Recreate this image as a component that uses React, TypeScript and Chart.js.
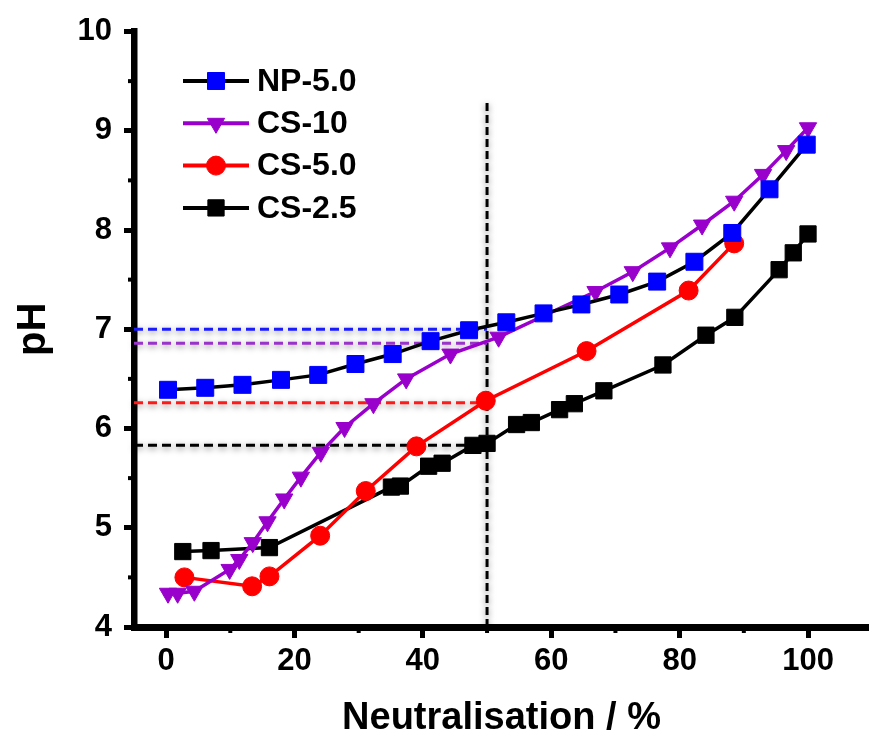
import React, { useEffect, useRef } from 'react';
import { Chart, registerables } from 'chart.js';
Chart.register(...registerables);

const FONT = "'Liberation Sans', Arial, Helvetica, sans-serif";

const seriesNames = ['NP-5.0', 'CS-10', 'CS-5.0', 'CS-2.5'];

const npX = [0.3, 6.1, 11.9, 17.9, 23.7, 29.5, 35.3, 41.2, 47.2, 53.0, 58.8, 64.7, 70.6, 76.5, 82.3, 88.2, 94.0, 99.8];
const npY = [6.39, 6.41, 6.44, 6.49, 6.54, 6.65, 6.75, 6.88, 6.99, 7.07, 7.16, 7.25, 7.35, 7.48, 7.68, 7.97, 8.41, 8.86];

const cs10X = [0.3, 1.8, 4.4, 9.9, 11.4, 13.5, 15.8, 18.4, 21.0, 24.1, 27.8, 32.3, 37.4, 44.3, 51.8, 66.9, 72.7, 78.5, 83.5, 88.5, 93.0, 96.6, 100.0];
const cs10Y = [4.34, 4.34, 4.36, 4.58, 4.68, 4.85, 5.06, 5.29, 5.51, 5.76, 6.01, 6.25, 6.50, 6.75, 6.92, 7.38, 7.58, 7.82, 8.05, 8.29, 8.56, 8.80, 9.03];

const cs5X = [2.85, 13.4, 16.1, 24.0, 31.1, 39.0, 49.8, 65.5, 81.4, 88.5];
const cs5Y = [4.50, 4.41, 4.51, 4.92, 5.37, 5.82, 6.28, 6.78, 7.39, 7.865];

const cs25X = [2.6, 7.0, 16.1, 35.1, 36.5, 40.9, 43.0, 47.8, 50.0, 54.6, 56.9, 61.3, 63.6, 68.2, 77.4, 84.1, 88.6, 95.5, 97.7, 100.0];
const cs25Y = [4.76, 4.77, 4.80, 5.41, 5.42, 5.62, 5.65, 5.83, 5.85, 6.04, 6.06, 6.19, 6.25, 6.38, 6.64, 6.94, 7.12, 7.60, 7.77, 7.96];

const guideLevels = [7.0, 6.86, 6.26, 5.83];
const guideColors = ['#1a1aff', '#9933cc', '#ff1a1a', '#000000'];
const guideXRange = [-5, 50];
const verticalGuideX = 50;
const verticalGuideY = [4, 9.3];

const xTicks = [0, 20, 40, 60, 80, 100];
const xMinorTicks = [10, 30, 50, 70, 90];
const yTicks = [4, 5, 6, 7, 8, 9, 10];
const yMinorTicks = [4.5, 5.5, 6.5, 7.5, 8.5, 9.5];

const pts = (xs: number[], ys: number[]) => xs.map((x, i) => ({ x, y: ys[i] }));

function drawMarker(ctx: CanvasRenderingContext2D, style: string, r: number, x: number, y: number, rot: number) {
  ctx.beginPath();
  if (style === 'rect') {
    const s = Math.SQRT1_2 * r;
    ctx.rect(x - s, y - s, 2 * s, 2 * s);
  } else if (style === 'circle') {
    ctx.arc(x, y, r, 0, Math.PI * 2);
  } else if (style === 'triangle') {
    let rad = (rot * Math.PI) / 180;
    ctx.moveTo(x + Math.sin(rad) * r, y - Math.cos(rad) * r);
    rad += (2 * Math.PI) / 3;
    ctx.lineTo(x + Math.sin(rad) * r, y - Math.cos(rad) * r);
    rad += (2 * Math.PI) / 3;
    ctx.lineTo(x + Math.sin(rad) * r, y - Math.cos(rad) * r);
    ctx.closePath();
  }
  ctx.fill();
  ctx.stroke();
}

const legendPlugin = {
  id: 'customLegend',
  afterDraw(chart: any) {
    const { ctx, chartArea } = chart;
    const x0 = chartArea.left + 49;
    const x1 = chartArea.left + 115;
    const tx = chartArea.left + 123;
    let y = chartArea.top + 49.5;
    ctx.save();
    seriesNames.forEach((name: string, i: number) => {
      const ds = chart.data.datasets[i];
      ctx.setLineDash([]);
      ctx.strokeStyle = ds.borderColor;
      ctx.lineWidth = 4;
      ctx.beginPath();
      ctx.moveTo(x0, y);
      ctx.lineTo(x1, y);
      ctx.stroke();
      ctx.fillStyle = ds.pointBackgroundColor;
      ctx.strokeStyle = ds.pointBorderColor;
      ctx.lineWidth = 1;
      drawMarker(ctx, ds.pointStyle, ds.pointRadius, (x0 + x1) / 2, y, ds.pointRotation || 0);
      ctx.fillStyle = '#000';
      ctx.font = `bold 32px ${FONT}`;
      ctx.textBaseline = 'middle';
      ctx.textAlign = 'left';
      ctx.fillText(name, tx, y + 1);
      y += 42.3;
    });
    ctx.restore();
  },
};

const minorTickPlugin = {
  id: 'minorTicks',
  afterDraw(chart: any) {
    const { ctx, chartArea } = chart;
    const xs = chart.scales.x;
    const ys = chart.scales.y;
    ctx.save();
    ctx.strokeStyle = '#000';
    ctx.lineWidth = 4;
    ctx.setLineDash([]);
    xMinorTicks.forEach((v) => {
      const px = xs.getPixelForValue(v);
      ctx.beginPath();
      ctx.moveTo(px, chartArea.bottom);
      ctx.lineTo(px, chartArea.bottom + 6);
      ctx.stroke();
    });
    yMinorTicks.forEach((v) => {
      const py = ys.getPixelForValue(v);
      ctx.beginPath();
      ctx.moveTo(chartArea.left, py);
      ctx.lineTo(chartArea.left - 6, py);
      ctx.stroke();
    });
    ctx.restore();
  },
};

const shadowPlugin = {
  id: 'guideShadow',
  beforeDatasetDraw(chart: any, args: any) {
    const ds = chart.data.datasets[args.index];
    if (ds._guide) {
      const ctx = chart.ctx;
      ctx.save();
      ctx.shadowColor = 'rgba(0,0,0,0.5)';
      ctx.shadowBlur = 6;
      ctx.shadowOffsetX = 0;
      ctx.shadowOffsetY = 2;
    }
  },
  afterDatasetDraw(chart: any, args: any) {
    const ds = chart.data.datasets[args.index];
    if (ds._guide) chart.ctx.restore();
  },
};

export default function App() {
  const ref = useRef<HTMLCanvasElement | null>(null);
  useEffect(() => {
    if (!ref.current) return;
    const tickFont = { family: FONT, size: 31, weight: 'bold' as const };
    const titleFont = { family: FONT, size: 38, weight: 'bold' as const, lineHeight: 1 };
    const yTitleFont = { family: FONT, size: 40, weight: 'bold' as const, lineHeight: 1 };

    const dataSets: any[] = [
      {
        label: seriesNames[0], data: pts(npX, npY), borderColor: '#000000', borderWidth: 3.5,
        pointStyle: 'rect', pointRadius: 12, pointBackgroundColor: '#0000ff', pointBorderColor: '#0000ff', pointBorderWidth: 1,
      },
      {
        label: seriesNames[1], data: pts(cs10X, cs10Y), borderColor: '#9900cc', borderWidth: 3.5,
        pointStyle: 'triangle', pointRotation: 180, pointRadius: 10, pointBackgroundColor: '#9900cc', pointBorderColor: '#9900cc', pointBorderWidth: 1,
      },
      {
        label: seriesNames[2], data: pts(cs5X, cs5Y), borderColor: '#ff0000', borderWidth: 3.5,
        pointStyle: 'circle', pointRadius: 9.5, pointBackgroundColor: '#ff0000', pointBorderColor: '#ff0000', pointBorderWidth: 1,
      },
      {
        label: seriesNames[3], data: pts(cs25X, cs25Y), borderColor: '#000000', borderWidth: 3.5,
        pointStyle: 'rect', pointRadius: 11.5, pointBackgroundColor: '#000000', pointBorderColor: '#000000', pointBorderWidth: 1,
      },
    ];
    guideLevels.forEach((lvl, i) => {
      dataSets.push({
        label: 'guide' + i, _guide: true,
        data: guideXRange.map((x) => ({ x, y: lvl })),
        borderColor: guideColors[i], borderWidth: 3, borderDash: [9, 5], pointRadius: 0, clip: false,
      });
    });
    dataSets.push({
      label: 'guideV', _guide: true,
      data: verticalGuideY.map((y) => ({ x: verticalGuideX, y })),
      borderColor: '#000000', borderWidth: 3, borderDash: [8, 4], pointRadius: 0,
    });

    const chart = new Chart(ref.current, {
      type: 'line',
      data: { datasets: dataSets },
      plugins: [shadowPlugin, minorTickPlugin, legendPlugin],
      options: {
        responsive: false,
        animation: false,
        events: [],
        layout: { autoPadding: false, padding: { top: 31.5, right: 0, bottom: 0, left: 0 } },
        plugins: { legend: { display: false }, tooltip: { enabled: false } },
        elements: { line: { tension: 0 } },
        scales: {
          x: {
            type: 'linear',
            min: -5,
            max: 109.5,
            afterFit: (s: any) => { s.height = 111; s.paddingLeft = 0; s.paddingRight = 0; },
            afterBuildTicks: (s: any) => { s.ticks = xTicks.map((v) => ({ value: v })); },
            grid: { display: true, drawOnChartArea: false, drawTicks: true, tickLength: 11, lineWidth: 5, color: '#000' },
            border: { display: true, width: 7, color: '#000' },
            ticks: { font: tickFont, color: '#000', padding: 5, maxRotation: 0, autoSkip: false },
            title: { display: true, text: 'Neutralisation / %', font: titleFont, color: '#000', padding: { top: 0, bottom: 0 } },
          },
          y: {
            type: 'linear',
            min: 4,
            max: 10,
            afterFit: (s: any) => { s.width = 134; },
            afterBuildTicks: (s: any) => { s.ticks = yTicks.map((v) => ({ value: v })); },
            grid: { display: true, drawOnChartArea: false, drawTicks: true, tickLength: 10, lineWidth: 5, color: '#000' },
            border: { display: true, width: 6.5, color: '#000' },
            ticks: { font: tickFont, color: '#000', padding: 12 },
            title: { display: true, text: 'pH', font: yTitleFont, color: '#000', padding: { top: 14, bottom: 0 } },
          },
        },
      } as any,
    });
    return () => chart.destroy();
  }, []);

  return (
    <div style={{ position: 'absolute', left: 0, top: 0, width: 869, height: 738, background: '#fff' }}>
      <canvas ref={ref} width={869} height={738} style={{ display: 'block' }} />
    </div>
  );
}
